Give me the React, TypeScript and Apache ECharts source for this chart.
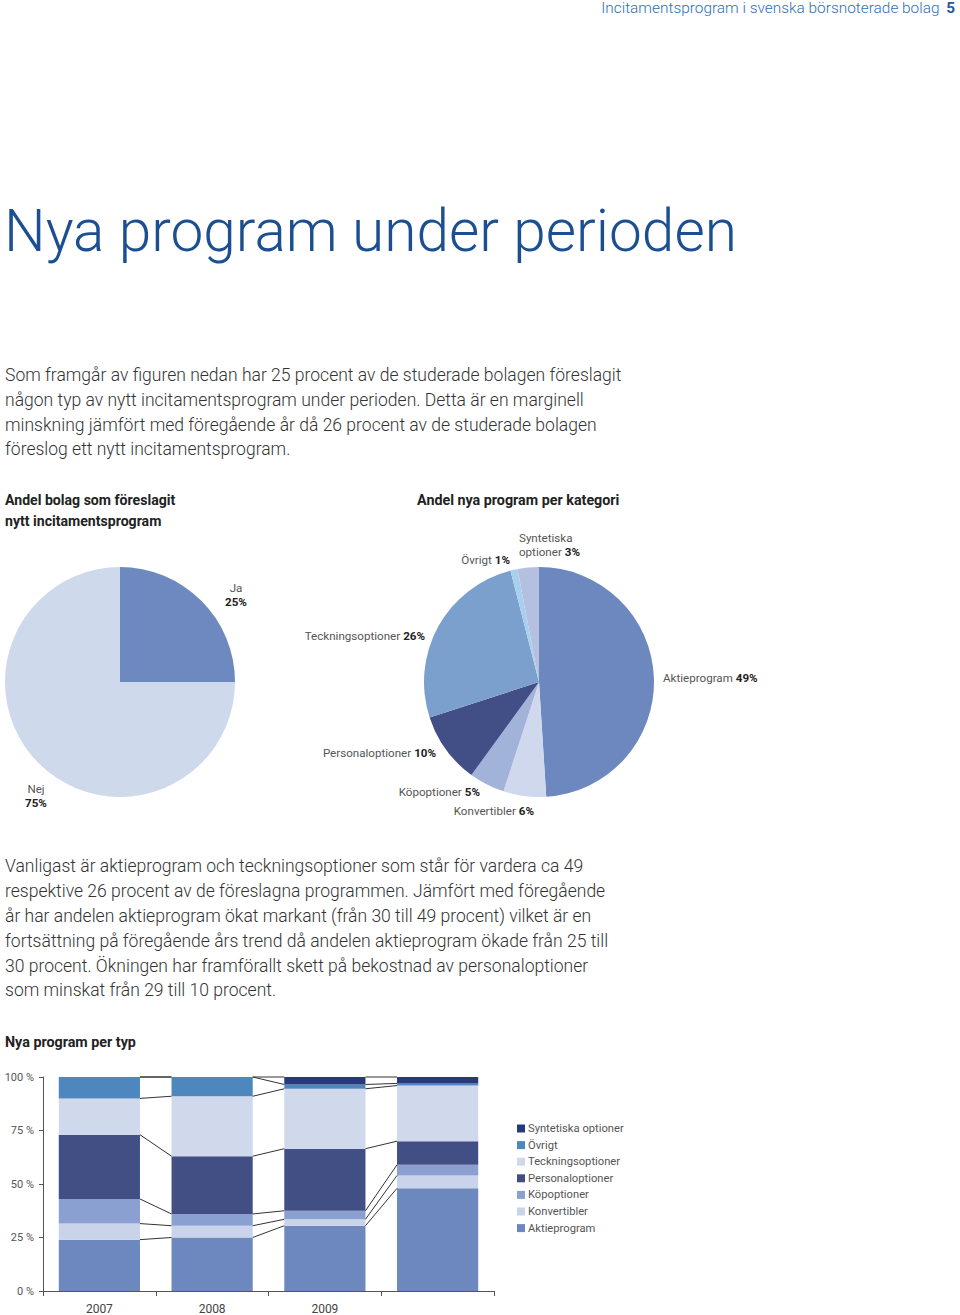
import React, { useEffect, useRef } from "react";
import * as echarts from "echarts";

// ---- data ----
const pie1Names = ["Ja", "Nej"];
const pie1Values = [25, 75];

const pie2Names = [
  "Aktieprogram",
  "Konvertibler",
  "Köpoptioner",
  "Personaloptioner",
  "Teckningsoptioner",
  "Övrigt",
  "Syntetiska optioner",
];
const pie2Values = [49, 6, 5, 10, 26, 1, 3];

const years = ["2007", "2008", "2009", ""];
const seriesNames = [
  "Aktieprogram",
  "Konvertibler",
  "Köpoptioner",
  "Personaloptioner",
  "Teckningsoptioner",
  "Övrigt",
  "Syntetiska optioner",
];
const aktie = [24, 25, 30.5, 48];
const konv = [7.5, 5.5, 3, 6];
const kop = [11.5, 5.5, 4, 5];
const personal = [30, 27, 29, 11];
const teckning = [17, 28, 28, 26];
const ovrigt = [10, 9, 2, 1];
const synt = [0, 0, 3.5, 3];
const yTicks = [0, 25, 50, 75, 100];

const para1 = [
  "Som framgår av figuren nedan har 25 procent av de studerade bolagen föreslagit",
  "någon typ av nytt incitamentsprogram under perioden. Detta är en marginell",
  "minskning jämfört med föregående år då 26 procent av de studerade bolagen",
  "föreslog ett nytt incitamentsprogram.",
];
const para2 = [
  "Vanligast är aktieprogram och teckningsoptioner som står för vardera ca 49",
  "respektive 26 procent av de föreslagna programmen. Jämfört med föregående",
  "år har andelen aktieprogram ökat markant (från 30 till 49 procent) vilket är en",
  "fortsättning på föregående års trend då andelen aktieprogram ökade från 25 till",
  "30 procent. Ökningen har framförallt skett på bekostnad av personaloptioner",
  "som minskat från 29 till 10 procent.",
];

// ---- styles ----
const FONT = "Roboto";
const pie1Colors = ["#6e89bf", "#cfd9ec"];
const pie2Colors = ["#6d88bf", "#cfd8ec", "#a2b3d9", "#414f86", "#7ba0cd", "#a8d0ee", "#b5bfe0"];
const barColors = ["#6d88bf", "#c9d3ea", "#8aa0d0", "#424f85", "#d0d9ec", "#4e86be", "#26397a"];

const pie1Pos = [
  { x: 236, y: 595, align: "center" },
  { x: 36, y: 796, align: "center" },
];
const pie2Pos = [
  { x: 663, y: 678, align: "left" },
  { x: 534, y: 811, align: "right" },
  { x: 480, y: 792, align: "right" },
  { x: 436, y: 753, align: "right" },
  { x: 425, y: 636, align: "right" },
  { x: 510, y: 560, align: "right" },
  { x: 519, y: 545, align: "left" },
];

export default function App() {
  const ref = useRef<HTMLDivElement>(null);
  useEffect(() => {
    if (!ref.current) return;
    const chart = echarts.init(ref.current, undefined, { renderer: "svg" });

    const stackSeries = [aktie, konv, kop, personal, teckning, ovrigt, synt];
    const cum: number[][] = years.map((_, yi) => {
      let s = 0;
      return stackSeries.map((arr) => (s += arr[yi]));
    });
    const connData: number[][] = [];
    for (let g = 0; g < years.length - 1; g++) {
      for (let k = 0; k < stackSeries.length; k++) {
        connData.push([g, cum[g][k], cum[g + 1][k]]);
      }
    }

    const richLbl = {
      n: { fontFamily: FONT, fontSize: 11.6, fontWeight: 400, color: "#555", lineHeight: 14 },
      v: { fontFamily: FONT, fontSize: 11.6, fontWeight: "bold", color: "#222", lineHeight: 14 },
    };

    const titleStyle = {
      fontFamily: FONT,
      fontWeight: "bold",
      lineHeight: 21,
      fill: "#222",
      verticalAlign: "top",
    };

    const option: any = {
      animation: false,
      textStyle: { fontFamily: FONT },
      graphic: [
        {
          type: "text",
          right: 5,
          top: 0,
          style: {
            text: "{a|Incitamentsprogram i svenska börsnoterade bolag}  {b|5}",
            rich: {
              a: { fontFamily: FONT, fontSize: 15.4, fontWeight: 300, fill: "#2f6fb5" },
              b: { fontFamily: FONT, fontSize: 15.4, fontWeight: "bold", fill: "#1f5a9e" },
            },
          },
        },
        {
          type: "text",
          x: 4,
          y: 231,
          style: {
            text: "Nya program under perioden",
            fontFamily: FONT,
            fontSize: 58.6,
            fontWeight: 300,
            fill: "#1b4f92",
            verticalAlign: "middle",
          },
        },
        {
          type: "text",
          x: 5,
          y: 363,
          style: {
            text: para1.join("\n"),
            fontFamily: FONT,
            fontSize: 17.55,
            fontWeight: 300,
            lineHeight: 24.7,
            fill: "#333",
            verticalAlign: "top",
          },
        },
        {
          type: "text",
          x: 5,
          y: 854,
          style: {
            text: para2.join("\n"),
            fontFamily: FONT,
            fontSize: 17.55,
            fontWeight: 300,
            lineHeight: 24.8,
            fill: "#333",
            verticalAlign: "top",
          },
        },
        {
          type: "text",
          x: 5,
          y: 489,
          style: { ...titleStyle, fontSize: 14.1, text: "Andel bolag som föreslagit\nnytt incitamentsprogram" },
        },
        {
          type: "text",
          x: 417,
          y: 489,
          style: { ...titleStyle, fontSize: 14.3, text: "Andel nya program per kategori" },
        },
        {
          type: "text",
          x: 5,
          y: 1031,
          style: { ...titleStyle, fontSize: 14.3, text: "Nya program per typ" },
        },
      ],
      legend: {
        orient: "vertical",
        left: 512,
        top: 1118,
        itemWidth: 8,
        itemHeight: 8,
        itemGap: 5.6,
        icon: "rect",
        data: [...seriesNames].reverse(),
        textStyle: { fontFamily: FONT, fontSize: 11.2, fontWeight: 400, color: "#555", padding: [0, 0, 0, -2] },
        selectedMode: false,
      },
      grid: { left: 43, top: 1077, width: 451, height: 216 },
      xAxis: {
        type: "category",
        data: years,
        axisLine: { lineStyle: { color: "#555", width: 1 } },
        axisTick: { show: true, length: 5, lineStyle: { color: "#555" } },
        axisLabel: { fontFamily: FONT, fontSize: 12, fontWeight: 400, color: "#444", margin: 12 },
      },
      yAxis: {
        type: "value",
        min: yTicks[0],
        max: yTicks[yTicks.length - 1],
        interval: 25,
        axisLine: { show: true, lineStyle: { color: "#555", width: 1 } },
        axisTick: { show: true, length: 4, lineStyle: { color: "#555" } },
        splitLine: { show: false },
        axisLabel: {
          fontFamily: FONT,
          fontSize: 11,
          fontWeight: 400,
          color: "#555",
          margin: 9,
          formatter: "{value} %",
        },
      },
      series: [
        {
          type: "pie",
          center: [120, 682],
          radius: 115,
          startAngle: 90,
          clockwise: true,
          avoidLabelOverlap: false,
          silent: true,
          data: pie1Names.map((n, i) => ({
            name: n,
            value: pie1Values[i],
            itemStyle: { color: pie1Colors[i] },
          })),
          label: {
            show: true,
            position: "outside",
            color: "#555",
            formatter: "{n|{b}}\n{v|{c}%}",
            rich: richLbl,
          },
          labelLine: { show: false },
          labelLayout: (p: any) => ({
            x: pie1Pos[p.dataIndex].x,
            y: pie1Pos[p.dataIndex].y,
            align: pie1Pos[p.dataIndex].align,
            verticalAlign: "middle",
          }),
        },
        {
          type: "pie",
          center: [539, 682],
          radius: 115,
          startAngle: 90,
          clockwise: true,
          avoidLabelOverlap: false,
          silent: true,
          data: pie2Names.map((n, i) => ({
            name: n,
            value: pie2Values[i],
            itemStyle: { color: pie2Colors[i] },
          })),
          label: {
            show: true,
            position: "outside",
            color: "#555",
            formatter: (p: any) => {
              const words = String(p.name).split(" ");
              if (words.length > 1) {
                return `{n|${words[0]}}\n{n|${words.slice(1).join(" ")}} {v|${p.value}%}`;
              }
              return `{n|${p.name}} {v|${p.value}%}`;
            },
            rich: richLbl,
          },
          labelLine: { show: false },
          labelLayout: (p: any) => ({
            x: pie2Pos[p.dataIndex].x,
            y: pie2Pos[p.dataIndex].y,
            align: pie2Pos[p.dataIndex].align,
            verticalAlign: "middle",
          }),
        },
        ...stackSeries.map((arr, i) => ({
          type: "bar",
          name: seriesNames[i],
          stack: "total",
          barWidth: "72%",
          data: arr,
          itemStyle: { color: barColors[i] },
          silent: true,
        })),
        {
          type: "custom",
          coordinateSystem: "cartesian2d",
          silent: true,
          z: 5,
          encode: { x: 0, y: [1, 2] },
          data: connData,
          renderItem: (params: any, api: any) => {
            const g = api.value(0);
            const p1 = api.coord([g, api.value(1)]);
            const p2 = api.coord([g + 1, api.value(2)]);
            const half = api.size([1, 0])[0] * 0.36;
            return {
              type: "line",
              shape: { x1: p1[0] + half, y1: p1[1], x2: p2[0] - half, y2: p2[1] },
              style: { stroke: "#333", lineWidth: 1 },
            };
          },
        },
      ],
    };
    chart.setOption(option);
    return () => chart.dispose();
  }, []);

  return (
    <div
      ref={ref}
      style={{ position: "absolute", left: 0, top: 0, width: 960, height: 1315, background: "#fff" }}
    />
  );
}
